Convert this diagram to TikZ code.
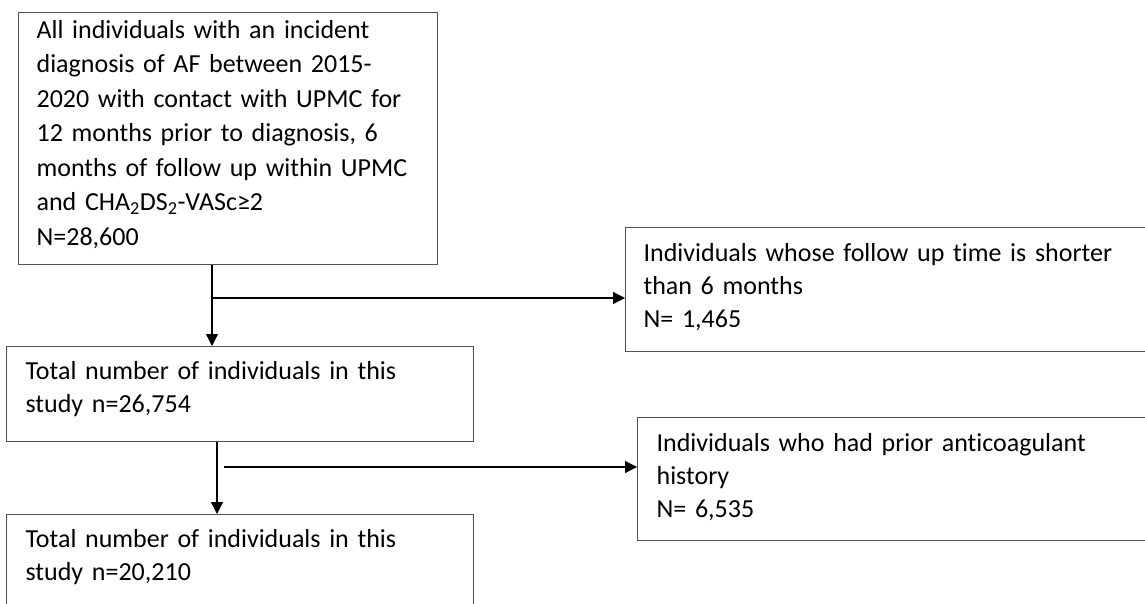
\documentclass[tikz,border=0pt]{standalone}
\usepackage{fontspec}
\setmainfont[Ligatures=NoCommon]{Carlito}
\usetikzlibrary{arrows.meta}
\definecolor{boxgray}{HTML}{505050}
\newcommand{\lowpad}[1]{\rule[-#1]{0pt}{0pt}}
\begin{document}
\begin{tikzpicture}[x=1pt,y=-1pt,
  box/.style={draw=boxgray, line width=1.2pt, rectangle, anchor=north west, inner ysep=0pt, align=left, font=\fontsize{26}{33}\selectfont},
  arr/.style={line width=1.2pt, -{Triangle[length=12pt,width=12pt]}}]
\useasboundingbox (0,0) rectangle (1145,604);
\clip (0,0) rectangle (1145,604);
\node[box, inner xsep=18pt, text width=383pt, minimum height=252pt, font=\fontsize{26}{34.5}\selectfont] (b1) at (18,12)
  {All individuals with an incident\\diagnosis of AF between 2015-\\2020 with contact with UPMC for\\12 months prior to diagnosis, 6\\months of follow up within UPMC\\and CHA\textsubscript{2}DS\textsubscript{2}-VASc≥2\\N=28,600\lowpad{11.5pt}};
\node[box, inner xsep=18pt, text width=539pt, minimum height=124pt] (b2) at (625,227)
  {Individuals whose follow up time is shorter\\than 6 months\\N= 1,465\lowpad{7.5pt}};
\node[box, inner xsep=19pt, text width=429pt, minimum height=95pt] (b3) at (6,346)
  {Total number of individuals in this\\study n=26,754\lowpad{14.5pt}};
\node[box, inner xsep=19pt, text width=522pt, minimum height=123pt] (b4) at (637,417)
  {Individuals who had prior anticoagulant\\history\\N= 6,535\lowpad{6.5pt}};
\node[box, inner xsep=19pt, text width=429pt, minimum height=95pt] (b5) at (6,514)
  {Total number of individuals in this\\study n=20,210\lowpad{14.5pt}};
\coordinate (j1) at (212,298);
\coordinate (c2) at (217,467);
\coordinate (j2) at (224,467);
\draw[arr] (b1.south -| j1) -- (b3.north -| j1);
\draw[arr] (j1) -- (b2.west |- j1);
\draw[arr] (b3.south -| c2) -- (b5.north -| c2);
\draw[arr] (j2) -- (b4.west |- j2);
\end{tikzpicture}
\end{document}
